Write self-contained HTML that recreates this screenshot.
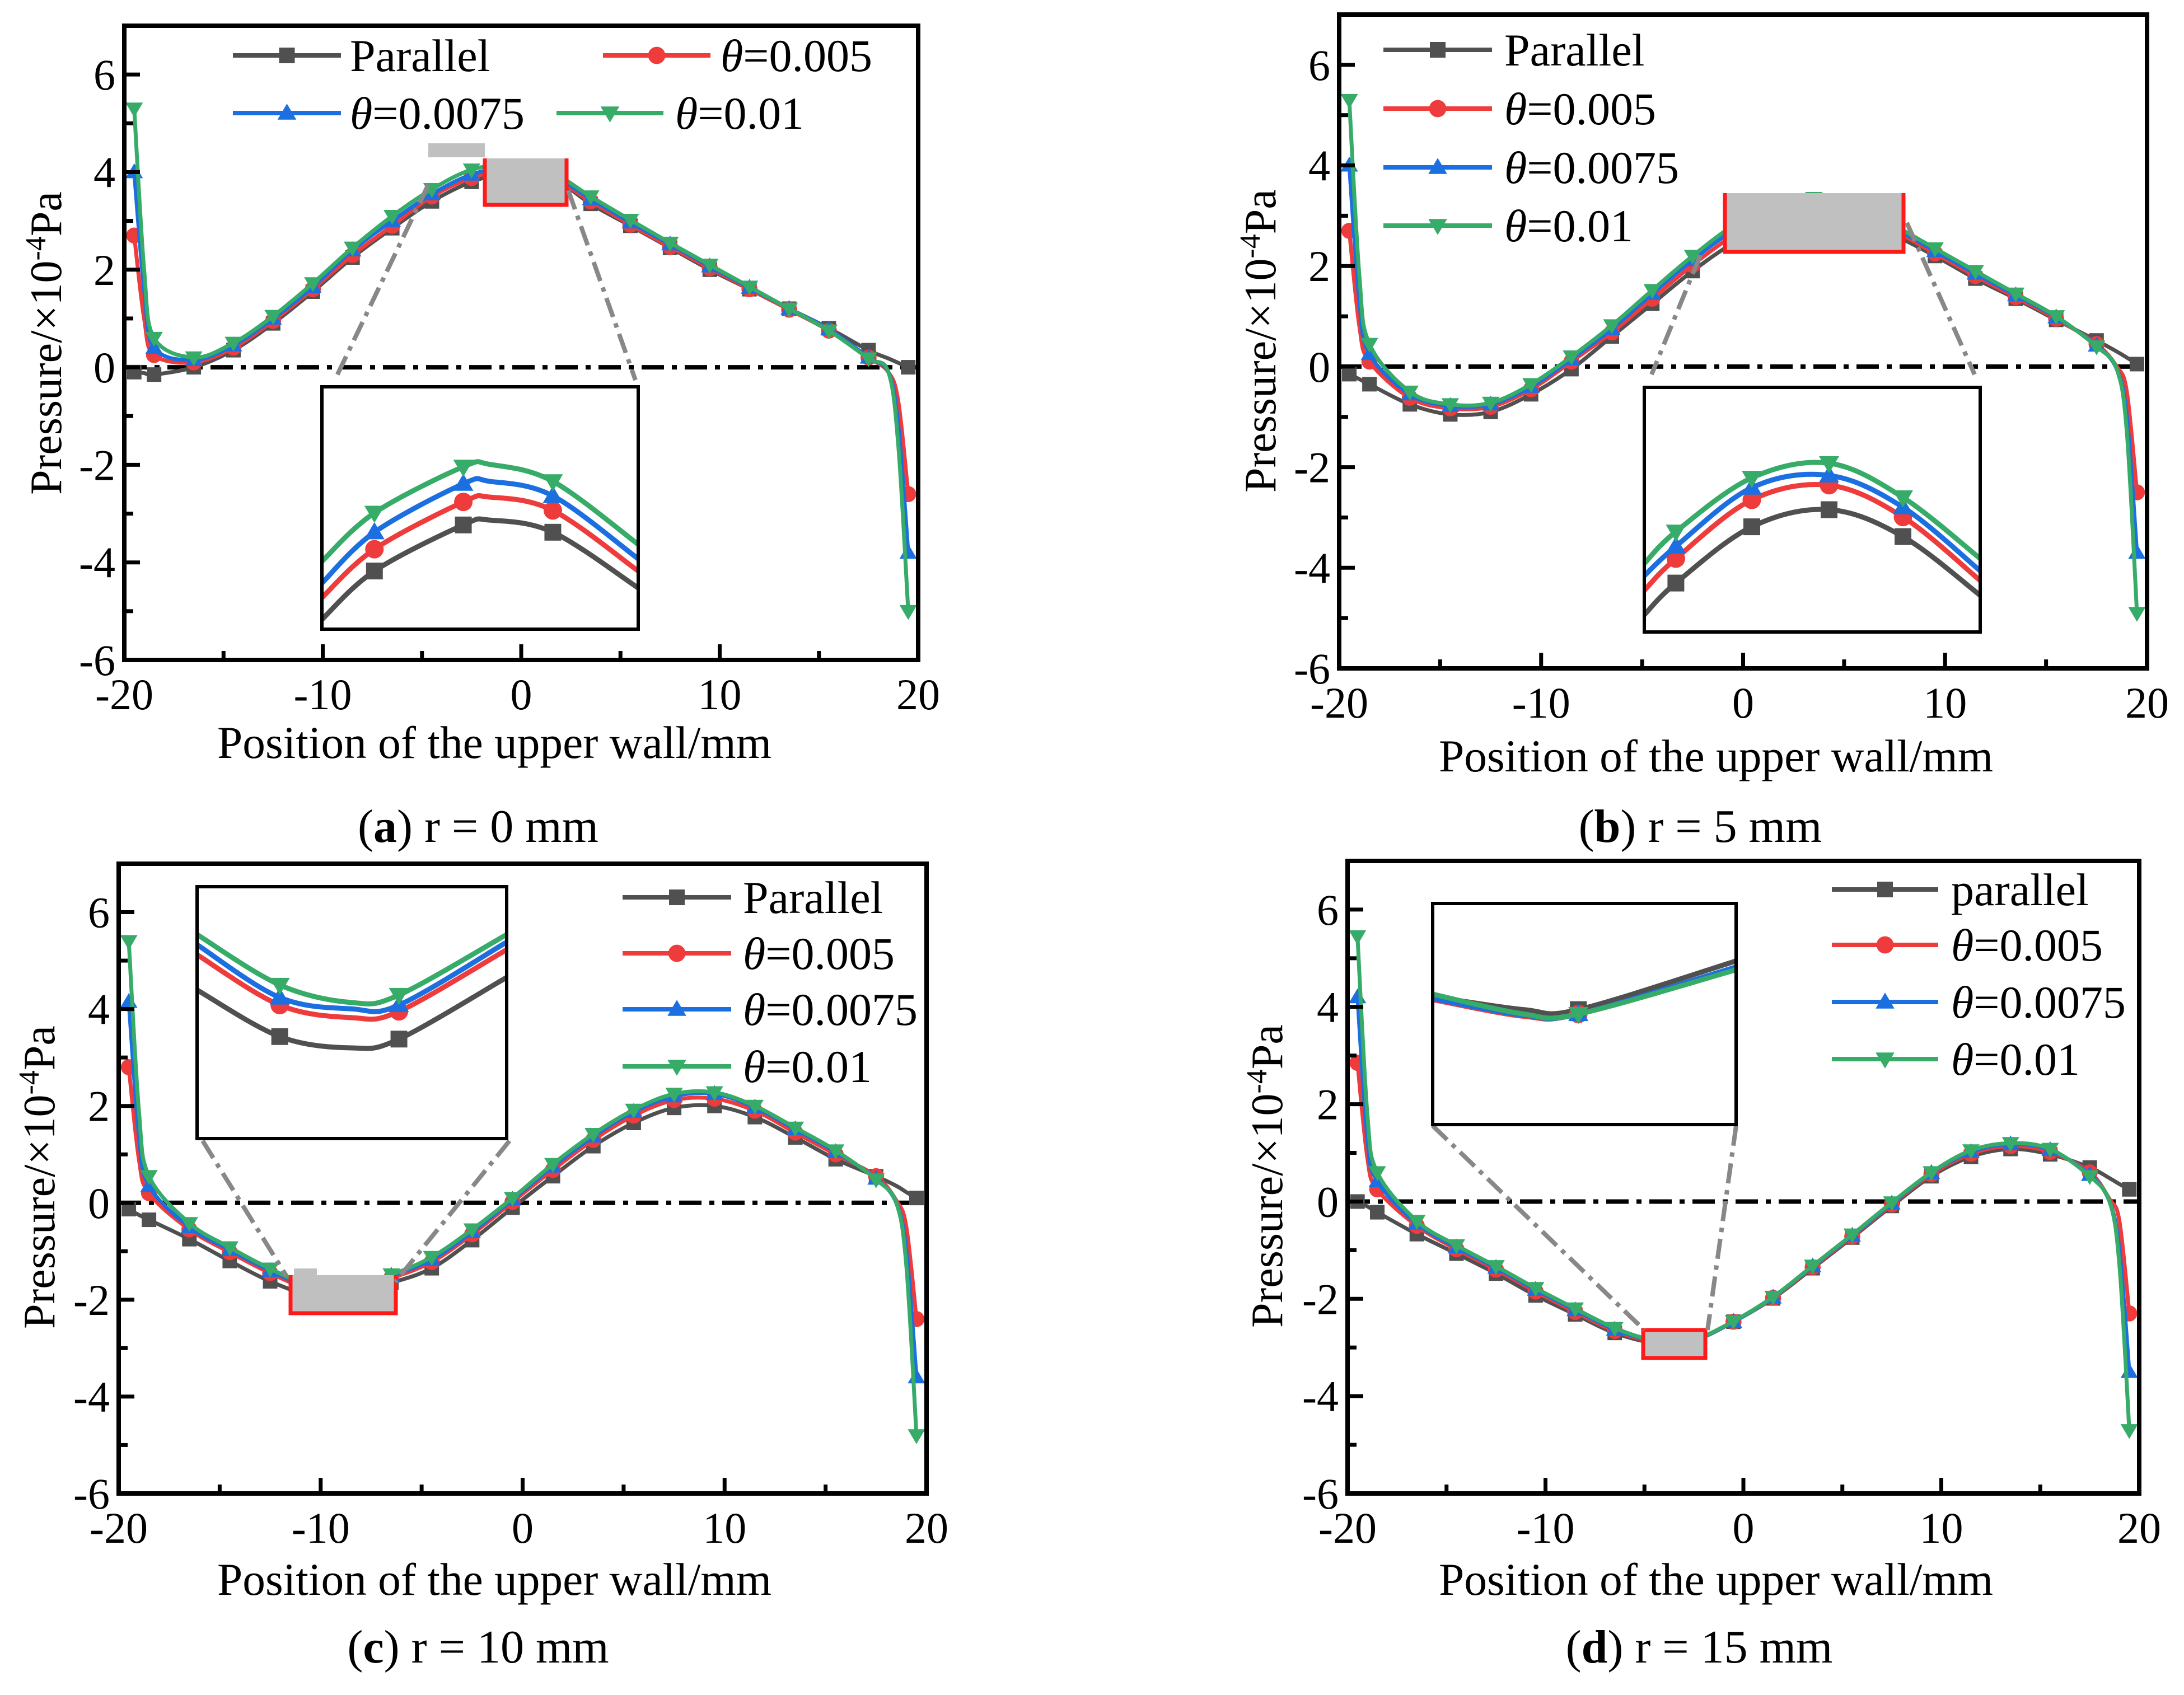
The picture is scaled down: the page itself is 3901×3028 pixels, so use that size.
<!DOCTYPE html>
<html><head><meta charset="utf-8"><style>
html,body{margin:0;padding:0;background:#fff;}
svg{display:block;}
text{font-family:"Liberation Serif",serif;fill:#000;}
</style></head>
<body>
<svg id="fig" xmlns="http://www.w3.org/2000/svg" width="3901" height="3028" viewBox="0 0 3901 3028"></svg>
<script>
// ---------- DATA ----------
const positions = [-19.5,-19,-18.5,-16.5,-14.5,-12.5,-10.5,-8.5,-6.5,-4.5,-2.5,-0.5,1.5,3.5,5.5,7.5,9.5,11.5,13.5,15.5,17.5,18.5,19,19.5];
const markerPositions = [-19.5,-18.5,-16.5,-14.5,-12.5,-10.5,-8.5,-6.5,-4.5,-2.5,-0.5,1.5,3.5,5.5,7.5,9.5,11.5,13.5,15.5,17.5,19.5];
const yTicks = [-6,-4,-2,0,2,4,6];
const xTicks = [-20,-10,0,10,20];
const seriesNames = ["Parallel","θ=0.005","θ=0.0075","θ=0.01"];

const aParallel = [-0.1,-0.12,-0.15,0.0,0.35,0.9,1.55,2.25,2.85,3.4,3.8,4.0,3.9,3.35,2.9,2.45,2.0,1.6,1.2,0.8,0.35,0.18,0.09,0.0];
const aT005 = [2.7,1.0,0.25,0.1,0.4,0.95,1.6,2.3,2.9,3.5,3.88,4.05,3.9,3.4,2.92,2.47,2.03,1.6,1.18,0.75,0.2,-0.1,-0.7,-2.6];
const aT0075 = [4.0,1.6,0.4,0.15,0.45,1.0,1.65,2.4,3.0,3.55,3.95,4.1,3.95,3.45,2.97,2.52,2.07,1.63,1.2,0.78,0.2,-0.1,-1.2,-3.8];
const aT01 = [5.3,2.0,0.6,0.2,0.5,1.05,1.72,2.45,3.1,3.65,4.05,4.15,4.0,3.5,3.02,2.55,2.1,1.65,1.2,0.75,0.18,-0.1,-1.6,-5.0];

const bParallel = [-0.15,-0.25,-0.35,-0.75,-0.95,-0.9,-0.55,-0.05,0.6,1.25,1.9,2.45,2.8,2.95,2.85,2.6,2.2,1.75,1.35,0.93,0.52,0.3,0.18,0.05];
const bT005 = [2.7,0.8,0.1,-0.62,-0.83,-0.8,-0.45,0.1,0.68,1.35,2.02,2.6,3.0,3.15,3.05,2.7,2.25,1.8,1.38,0.95,0.45,0.0,-0.5,-2.5];
const bT0075 = [4.0,1.3,0.25,-0.55,-0.78,-0.75,-0.4,0.15,0.75,1.45,2.12,2.7,3.1,3.25,3.12,2.75,2.3,1.85,1.42,0.98,0.42,-0.05,-1.0,-3.7];
const bT01 = [5.3,1.8,0.45,-0.5,-0.75,-0.72,-0.35,0.2,0.82,1.52,2.2,2.8,3.2,3.35,3.2,2.8,2.35,1.9,1.45,1.0,0.4,-0.05,-1.3,-4.9];

const cParallel = [-0.13,-0.25,-0.35,-0.75,-1.2,-1.62,-1.9,-1.85,-1.65,-1.35,-0.77,-0.1,0.55,1.17,1.65,1.96,2.0,1.77,1.35,0.9,0.55,0.35,0.22,0.1];
const cT005 = [2.8,0.9,0.2,-0.55,-1.02,-1.45,-1.78,-1.75,-1.55,-1.22,-0.65,0.02,0.68,1.3,1.8,2.12,2.15,1.9,1.45,1.0,0.55,0.05,-0.5,-2.4];
const cT0075 = [4.15,1.4,0.35,-0.5,-0.97,-1.4,-1.73,-1.7,-1.5,-1.17,-0.6,0.07,0.75,1.37,1.88,2.2,2.25,1.97,1.52,1.05,0.5,0.0,-1.0,-3.6];
const cT01 = [5.4,1.9,0.55,-0.42,-0.92,-1.36,-1.7,-1.68,-1.48,-1.12,-0.55,0.1,0.8,1.42,1.92,2.25,2.28,2.0,1.55,1.08,0.48,0.0,-1.3,-4.8];

const dParallel = [0.0,-0.1,-0.22,-0.67,-1.07,-1.48,-1.93,-2.32,-2.7,-2.9,-2.85,-2.47,-1.99,-1.37,-0.74,-0.09,0.52,0.92,1.08,0.97,0.7,0.48,0.36,0.25];
const dT005 = [2.85,0.9,0.25,-0.5,-0.98,-1.4,-1.85,-2.27,-2.66,-2.88,-2.85,-2.47,-1.98,-1.35,-0.72,-0.06,0.56,0.98,1.14,1.02,0.6,0.05,-0.4,-2.3];
const dT0075 = [4.2,1.3,0.42,-0.45,-0.94,-1.36,-1.81,-2.23,-2.63,-2.86,-2.84,-2.47,-1.97,-1.33,-0.7,-0.04,0.59,1.02,1.18,1.06,0.55,0.0,-1.0,-3.5];
const dT01 = [5.45,1.8,0.6,-0.4,-0.9,-1.33,-1.78,-2.2,-2.6,-2.85,-2.83,-2.46,-1.96,-1.32,-0.68,-0.02,0.6,1.05,1.2,1.08,0.52,0.0,-1.3,-4.7];

// inset (zoomed) curves: fractional x and y within inset box
const aInsetX = [0,0.166,0.447,0.53,0.73,1];
const aInsetMarkers = [0.166,0.447,0.73];
const aInsetPar = [0.96,0.76,0.57,0.55,0.60,0.83];
const aInsetT005 = [0.87,0.67,0.475,0.455,0.51,0.76];
const aInsetT0075 = [0.81,0.60,0.40,0.39,0.45,0.71];
const aInsetT01 = [0.72,0.52,0.33,0.32,0.39,0.65];

const bInsetX = [0,0.094,0.32,0.55,0.77,1];
const bInsetMarkers = [0.094,0.32,0.55,0.77];
const bInsetPar = [0.93,0.80,0.57,0.50,0.61,0.85];
const bInsetT005 = [0.83,0.70,0.46,0.40,0.53,0.79];
const bInsetT0075 = [0.77,0.65,0.41,0.36,0.49,0.75];
const bInsetT01 = [0.72,0.59,0.37,0.31,0.45,0.70];

const cInsetX = [0,0.267,0.5,0.652,1];
const cInsetMarkers = [0.267,0.652];
const cInsetPar = [0.41,0.595,0.64,0.605,0.36];
const cInsetT005 = [0.27,0.47,0.52,0.495,0.25];
const cInsetT0075 = [0.23,0.44,0.485,0.47,0.22];
const cInsetT01 = [0.19,0.39,0.46,0.43,0.19];

const dInsetX = [0,0.3,0.48,1];
const dInsetMarkers = [0.48];
const dInsetPar = [0.42,0.48,0.48,0.26];
const dInsetT005 = [0.435,0.51,0.50,0.29];
const dInsetT0075 = [0.43,0.505,0.50,0.287];
const dInsetT01 = [0.41,0.50,0.50,0.30];

// ---------- STYLE / LAYOUT ----------
const COLORS = ["#505050","#ee3b3b","#1c6fe0","#37ab68"];
const MARKERS = ["square","circle","up","down"];
const NS = "http://www.w3.org/2000/svg";
const svg = document.getElementById("fig");

const panels = [
 {id:"a", box:[222,46,1640,1179], series:[aParallel,aT005,aT0075,aT01],
  inset:{box:[575,691,1140,1124], x:aInsetX, m:aInsetMarkers, s:[aInsetPar,aInsetT005,aInsetT0075,aInsetT01]},
  zoom:{rect:[866,283,1012,366], red:"lbr", extra:[765,256,866,281], conn:[[765,330,598,679],[1015,340,1135,679]]},
  legend:{rows:[[0,416,609,625,99],[1,1077,1269,1287,99],[2,416,609,625,202],[3,994,1185,1206,202]]},
  ylab:[81,613], xlab:[883,1354], cap:[854,1504,"a","r = 0 mm"], names:seriesNames},
 {id:"b", box:[2392,26,3835,1194], series:[bParallel,bT005,bT0075,bT01],
  inset:{box:[2937,692,3537,1129], x:bInsetX, m:bInsetMarkers, s:[bInsetPar,bInsetT005,bInsetT0075,bInsetT01]},
  zoom:{rect:[3081,345,3400,450], red:"lbr", conn:[[3037,456,2950,669],[3406,398,3527,669]]},
  legend:{rows:[[0,2471,2665,2687,89],[1,2471,2665,2687,194],[2,2471,2665,2687,299],[3,2471,2665,2687,403]]},
  ylab:[2250,609], xlab:[3065,1378], cap:[3037,1504,"b","r = 5 mm"], names:seriesNames},
 {id:"c", box:[212,1543,1655,2668], series:[cParallel,cT005,cT0075,cT01],
  inset:{box:[352,1584,905,2034], x:cInsetX, m:cInsetMarkers, s:[cInsetPar,cInsetT005,cInsetT0075,cInsetT01]},
  zoom:{rect:[519,2278,707,2346], red:"lbr", extra:[525,2266,566,2280], conn:[[362,2038,512,2280],[910,2038,706,2290]]},
  legend:{rows:[[0,1112,1306,1327,1603],[1,1112,1306,1327,1703],[2,1112,1306,1327,1803],[3,1112,1306,1327,1905]]},
  ylab:[69,2103], xlab:[883,2849], cap:[854,2970,"c","r = 10 mm"], names:seriesNames},
 {id:"d", box:[2407,1538,3821,2668], series:[dParallel,dT005,dT0075,dT01],
  inset:{box:[2559,1614,3101,2009], x:dInsetX, m:dInsetMarkers, s:[dInsetPar,dInsetT005,dInsetT0075,dInsetT01]},
  zoom:{rect:[2935,2376,3046,2426], red:"lbrt", conn:[[2559,2011,2937,2376],[3101,2011,3050,2376]]},
  legend:{rows:[[0,3272,3462,3485,1589],[1,3272,3462,3485,1688],[2,3272,3462,3485,1790],[3,3272,3462,3485,1892]]},
  ylab:[2262,2101], xlab:[3065,2849], cap:[3035,2970,"d","r = 15 mm"], names:["parallel","θ=0.005","θ=0.0075","θ=0.01"]}
];

function el(tag, attrs, parent){
  const e = document.createElementNS(NS, tag);
  for (const k in attrs) e.setAttribute(k, attrs[k]);
  (parent||svg).appendChild(e);
  return e;
}
function spline(pts){
  if (pts.length<2) return "";
  let d = "M"+pts[0][0].toFixed(1)+","+pts[0][1].toFixed(1);
  for (let i=0;i<pts.length-1;i++){
    const p0=pts[Math.max(0,i-1)], p1=pts[i], p2=pts[i+1], p3=pts[Math.min(pts.length-1,i+2)];
    const c1=[p1[0]+(p2[0]-p0[0])/6, p1[1]+(p2[1]-p0[1])/6];
    const c2=[p2[0]-(p3[0]-p1[0])/6, p2[1]-(p3[1]-p1[1])/6];
    d+=" C"+c1[0].toFixed(1)+","+c1[1].toFixed(1)+" "+c2[0].toFixed(1)+","+c2[1].toFixed(1)+" "+p2[0].toFixed(1)+","+p2[1].toFixed(1);
  }
  return d;
}
function marker(g, type, x, y, color, s){
  let m;
  if (type==="square") m = el("rect",{x:x-s/2,y:y-s/2,width:s,height:s,fill:color},g);
  else if (type==="circle") m = el("circle",{cx:x,cy:y,r:s*0.55,fill:color},g);
  else if (type==="up") m = el("polygon",{points:`${x},${y-s*0.6} ${x-s*0.6},${y+s*0.42} ${x+s*0.6},${y+s*0.42}`,fill:color},g);
  else m = el("polygon",{points:`${x},${y+s*0.6} ${x-s*0.6},${y-s*0.42} ${x+s*0.6},${y-s*0.42}`,fill:color},g);
  
  
  return m;
}
function stext(g, x, y, str, size, anchor, italicPrefix, bold, len){
  const attrs = {x:x,y:y,"font-size":size,"text-anchor":anchor};
  if (len){ attrs.textLength = len; attrs.lengthAdjust = "spacingAndGlyphs"; }
  const tx = el("text",attrs,g);
  if (italicPrefix){
    const a = el("tspan",{"font-style":"italic"},tx); a.textContent = italicPrefix;
    const b = el("tspan",{},tx); b.textContent = str;
  } else if (bold){
    const a = el("tspan",{},tx); a.textContent="(";
    const b = el("tspan",{"font-weight":"bold"},tx); b.textContent=bold;
    const c = el("tspan",{},tx); c.textContent=") "+str;
  } else tx.textContent = str;
  return tx;
}

panels.forEach(p=>{
  const [L,T,R,B] = p.box;
  const g = el("g",{});
  
  
  const xs = v => L + (v+20)/40*(R-L);
  const ys = v => B - (v+6)/13*(B-T);
  const clipId = "clip"+p.id;
  const cp = el("clipPath",{id:clipId},g);
  el("rect",{x:L,y:T,width:R-L,height:B-T},cp);

  const z = el("line",{x1:L,x2:R,y1:ys(0),y2:ys(0),stroke:"#000","stroke-width":8,"stroke-dasharray":"40,14,9,14"},g);
  
  

  const sg = el("g",{"clip-path":`url(#${clipId})`},g);
  p.series.forEach((vals,si)=>{
    const pts = positions.map((x,i)=>[xs(x),ys(vals[i])]);
    const path = el("path",{d:spline(pts),fill:"none",stroke:COLORS[si],"stroke-width":7,"stroke-linejoin":"round"},sg);
    
    
    positions.forEach((x,i)=>{
      if (markerPositions.indexOf(x)>=0) marker(sg, MARKERS[si], xs(x), ys(vals[i]), COLORS[si], 26);
    });
  });

  const zr = p.zoom.rect;
  if (p.zoom.extra){
    const ex = p.zoom.extra;
    el("rect",{x:ex[0],y:ex[1],width:ex[2]-ex[0],height:ex[3]-ex[1],fill:"#c0c0c0"},g);
  }
  const zrect = el("rect",{x:zr[0],y:zr[1],width:zr[2]-zr[0],height:zr[3]-zr[1],fill:"#c0c0c0"},g);
  
  
  let rd = `M${zr[0]},${zr[1]} L${zr[0]},${zr[3]} L${zr[2]},${zr[3]} L${zr[2]},${zr[1]}`;
  if (p.zoom.red==="lbrt") rd += " Z";
  el("path",{d:rd,fill:"none",stroke:"#ff1a1a","stroke-width":7},g);
  p.zoom.conn.forEach(c=>{
    const ln = el("line",{x1:c[0],y1:c[1],x2:c[2],y2:c[3],stroke:"#888","stroke-width":8,"stroke-dasharray":"36,12,8,12"},g);
    
    
  });

  const ib = p.inset.box;
  const ig = el("g",{},g);
  
  
  el("rect",{x:ib[0],y:ib[1],width:ib[2]-ib[0],height:ib[3]-ib[1],fill:"#fff"},ig);
  const icid = "iclip"+p.id;
  const icp = el("clipPath",{id:icid},ig);
  el("rect",{x:ib[0],y:ib[1],width:ib[2]-ib[0],height:ib[3]-ib[1]},icp);
  const icg = el("g",{"clip-path":`url(#${icid})`},ig);
  const ix = f => ib[0] + f*(ib[2]-ib[0]);
  const iy = f => ib[1] + f*(ib[3]-ib[1]);
  p.inset.s.forEach((vals,si)=>{
    const pts = p.inset.x.map((f,i)=>[ix(f),iy(vals[i])]);
    const path = el("path",{d:spline(pts),fill:"none",stroke:COLORS[si],"stroke-width":9},icg);
    
    
    p.inset.x.forEach((f,i)=>{
      if (p.inset.m.indexOf(f)>=0) marker(icg, MARKERS[si], ix(f), iy(vals[i]), COLORS[si], 30);
    });
  });
  el("rect",{x:ib[0],y:ib[1],width:ib[2]-ib[0],height:ib[3]-ib[1],fill:"none",stroke:"#000","stroke-width":6},ig);

  const fr = el("rect",{x:L,y:T,width:R-L,height:B-T,fill:"none",stroke:"#000","stroke-width":8},g);
  
  
  for (let v=-6; v<=7; v++){
    const major = yTicks.indexOf(v)>=0;
    el("line",{x1:L,x2:L+(major?28:16),y1:ys(v),y2:ys(v),stroke:"#000","stroke-width":7},g);
  }
  yTicks.forEach(v=>{
    const t = stext(g, L-16, ys(v)+27, String(v), 78, "end");
    
    
  });
  for (let v=-20; v<=20; v+=5){
    const major = xTicks.indexOf(v)>=0;
    el("line",{x1:xs(v),x2:xs(v),y1:B,y2:B-(major?28:16),stroke:"#000","stroke-width":7},g);
  }
  xTicks.forEach(v=>{
    const t = stext(g, xs(v), B+88, String(v), 78, "middle");
    
    
  });

  p.legend.rows.forEach(r=>{
    const [si,x1,x2,tx,y] = r;
    const lg = el("g",{},g);
    
    
    el("line",{x1:x1,x2:x2,y1:y,y2:y,stroke:COLORS[si],"stroke-width":8},lg);
    marker(lg, MARKERS[si], (x1+x2)/2, y, COLORS[si], 28);
    const name = p.names[si];
    if (name.startsWith("θ")) stext(lg, tx, y+28, name.slice(1), 82, "start", "θ");
    else stext(lg, tx, y+28, name, 82, "start");
  });

  const yl = el("text",{x:0,y:0,"font-size":80,"text-anchor":"middle",transform:`translate(${p.ylab[0]+28},${p.ylab[1]}) rotate(-90)`},g);
  
  
  const t1 = el("tspan",{},yl); t1.textContent = "Pressure/×10";
  const t2 = el("tspan",{dy:-28,"font-size":52},yl); t2.textContent = "-4";
  const t3 = el("tspan",{dy:28},yl); t3.textContent = "Pa";
  const xl = stext(g, p.xlab[0], p.xlab[1], "Position of the upper wall/mm", 82, "middle", null, null, 990);
  
  
  const cap = stext(g, p.cap[0], p.cap[1], p.cap[3], 84, "middle", null, p.cap[2]);
  
  
});
</script>
</body></html>
